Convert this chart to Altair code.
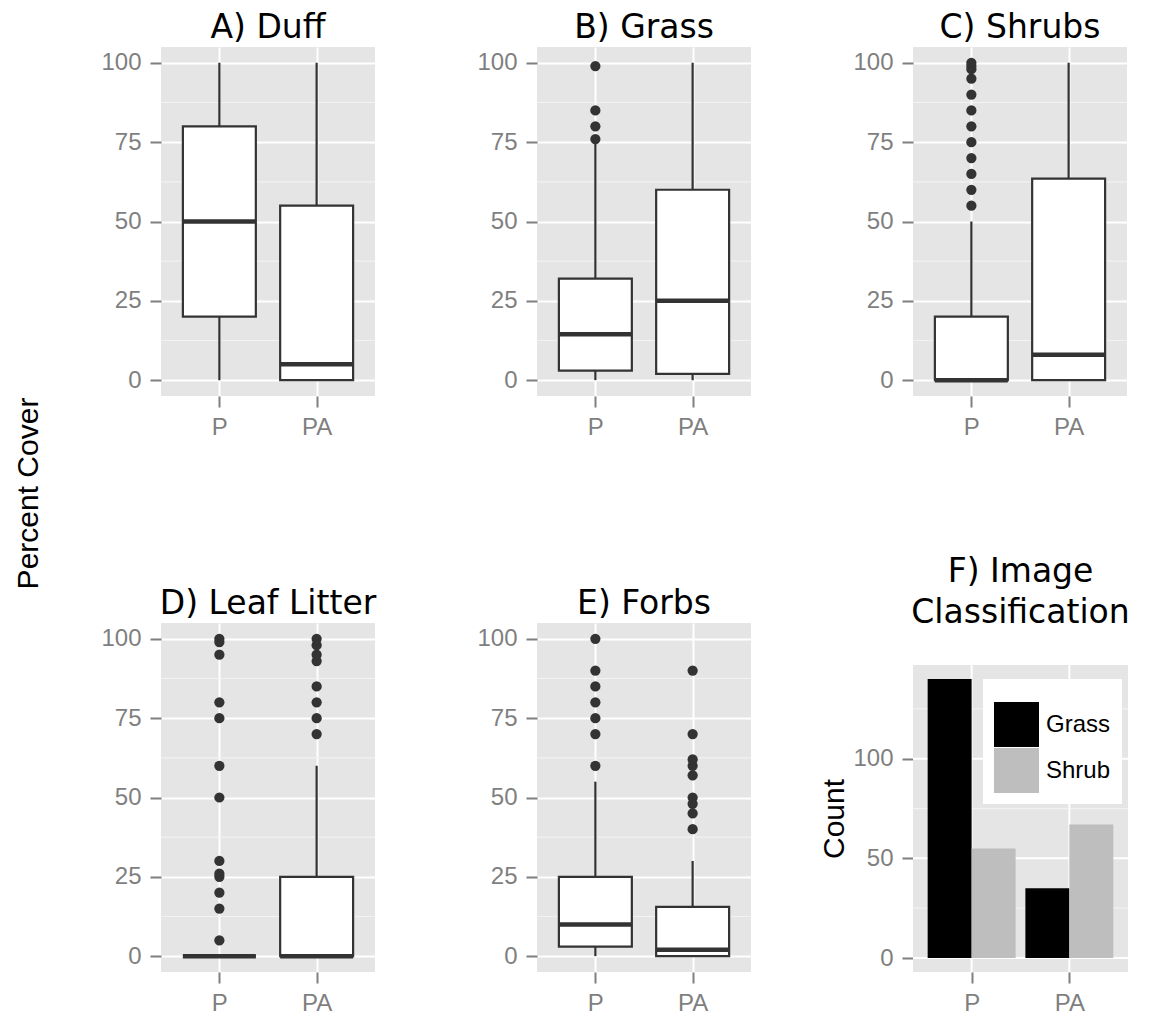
import altair as alt
import pandas as pd

# ---------------- data ----------------
groups = ["P", "PA"]
group_idx = [1, 2]

panel_titles = ["A) Duff", "B) Grass", "C) Shrubs", "D) Leaf Litter", "E) Forbs"]

# box statistics per panel: [P, PA]
whisker_low = [[0, 0], [0, 0], [0, 0], [0, 0], [0, 0]]
box_q1 = [[20, 0], [3, 2], [0, 0], [0, 0], [3, 0]]
box_median = [[50, 5], [14.5, 25], [0, 8], [0, 0], [10, 2]]
box_q3 = [[80, 55], [32, 60], [20, 63.5], [0, 25], [25, 15.5]]
whisker_high = [[100, 100], [75, 100], [50, 100], [0, 60], [55, 30]]

# outliers per panel
outliers_P = [
    [],
    [76, 80, 85, 99],
    [55, 60, 65, 70, 75, 80, 85, 90, 95, 98, 99, 100],
    [5, 15, 20, 25, 26, 30, 50, 60, 75, 80, 95, 99, 100],
    [60, 70, 75, 80, 85, 90, 100],
]
outliers_PA = [
    [],
    [],
    [],
    [70, 75, 80, 85, 93, 95, 98, 100],
    [40, 45, 48, 50, 57, 60, 62, 70, 90],
]

# F) Image classification counts
class_group = ["P", "P", "PA", "PA"]
class_type = ["Grass", "Shrub", "Grass", "Shrub"]
class_count = [140, 55, 35, 67]

# ---------------- style ----------------
W = 214
H = 349
FW = 215
F_TOP = 42
DARK = "#333333"
PANEL = "#E5E5E5"
MINOR = "#F2F2F2"
TITLE_FONT = "DejaVu Sans"
TEXT_FONT = "Liberation Sans"

xscale = alt.Scale(domain=[0.4, 2.6], nice=False, zero=False)
xaxis = alt.Axis(values=[1, 2], labelExpr="datum.value == 1 ? 'P' : 'PA'",
                 title=None, grid=True)
xaxis_nogrid = alt.Axis(values=[1, 2], labelExpr="datum.value == 1 ? 'P' : 'PA'",
                        title=None, grid=False)
pct_scale = alt.Scale(domain=[-5, 105], nice=False, zero=False)


def pct_axis(with_title=False):
    if with_title:
        return alt.Axis(values=[0, 25, 50, 75, 100], grid=True,
                        title="Percent Cover", titleX=-133, titleY=446,
                        titleAngle=-90, titleAlign="center", titleBaseline="middle",
                        titleFont=TEXT_FONT, titleFontSize=30, titleColor="black",
                        titleFontWeight="normal")
    return alt.Axis(values=[0, 25, 50, 75, 100], grid=True, title=None)


def box_panel(i):
    yaxis = pct_axis(i == 0)

    def X(f):
        return alt.X(f, scale=xscale, axis=xaxis)

    def Y(f):
        return alt.Y(f, scale=pct_scale, axis=yaxis)

    df = pd.DataFrame({
        "idx": group_idx,
        "group": groups,
        "lo": whisker_low[i],
        "q1": box_q1[i],
        "med": box_median[i],
        "q3": box_q3[i],
        "hi": whisker_high[i],
    })
    minor = alt.Chart(pd.DataFrame({"v": [12.5, 37.5, 62.5, 87.5]})).mark_rule(
        color=MINOR, strokeWidth=1.2
    ).encode(y=Y("v:Q"), x=alt.value(0), x2=alt.value(W))

    base = alt.Chart(df)
    whisk = base.mark_rule(color=DARK, strokeWidth=2.2).encode(
        x=X("idx:Q"), y=Y("lo:Q"), y2="hi:Q")
    calc = base.transform_calculate(xl="datum.idx - 0.375", xr="datum.idx + 0.375")
    box = calc.mark_rect(fill="white", stroke=DARK, strokeWidth=2.2).encode(
        x=X("xl:Q"), x2="xr:Q", y=Y("q1:Q"), y2="q3:Q")
    med = calc.mark_rule(color=DARK, strokeWidth=4.5).encode(
        x=X("xl:Q"), x2="xr:Q", y=Y("med:Q"))
    layers = [minor, whisk, box, med]

    ov = [(1, v) for v in outliers_P[i]] + [(2, v) for v in outliers_PA[i]]
    if ov:
        dfo = pd.DataFrame({"idx": [a for a, _ in ov], "val": [b for _, b in ov]})
        pts = alt.Chart(dfo).mark_circle(size=105, color=DARK, opacity=1).encode(
            x=X("idx:Q"), y=Y("val:Q"))
        layers.append(pts)

    return alt.layer(*layers).properties(
        width=W, height=H,
        title=alt.TitleParams(panel_titles[i], offset=2))


def class_panel():
    top_val = max(class_count)
    pad = top_val * 0.05
    f_domain = [-pad, top_val + pad]
    yscale = alt.Scale(domain=f_domain, nice=False, zero=False, range=[H, F_TOP])
    yaxis = alt.Axis(values=[0, 50, 100], grid=False, title="Count",
                     titleX=-79, titleY=F_TOP + (H - F_TOP) / 2, titleAngle=-90,
                     titleAlign="center",
                     titleBaseline="middle", titleFont=TEXT_FONT, titleFontSize=30,
                     titleColor="black", titleFontWeight="normal")

    def Y(f):
        return alt.Y(f, scale=yscale, axis=yaxis)

    def X(f):
        return alt.X(f, scale=xscale, axis=xaxis_nogrid)

    bg = alt.Chart(pd.DataFrame({"y0": [f_domain[0]], "y1": [f_domain[1]]})).mark_rect(
        color=PANEL).encode(x=alt.value(0), x2=alt.value(FW), y=Y("y0:Q"), y2="y1:Q")
    minor = alt.Chart(pd.DataFrame({"v": [25, 75, 125]})).mark_rule(
        color=MINOR, strokeWidth=1.2
    ).encode(y=Y("v:Q"), x=alt.value(0), x2=alt.value(FW))
    major = alt.Chart(pd.DataFrame({"v": [0, 50, 100]})).mark_rule(
        color="white", strokeWidth=2
    ).encode(y=Y("v:Q"), x=alt.value(0), x2=alt.value(FW))
    vert = alt.Chart(pd.DataFrame({"idx": group_idx,
                                   "y0": [f_domain[0]] * 2,
                                   "y1": [f_domain[1]] * 2})).mark_rule(
        color="white", strokeWidth=2
    ).encode(x=X("idx:Q"), y=Y("y0:Q"), y2="y1:Q")

    df = pd.DataFrame({
        "group": class_group,
        "type": class_type,
        "count": class_count,
        "idx": [group_idx[groups.index(g)] for g in class_group],
    })
    bars = alt.Chart(df).transform_calculate(
        xl="datum.type == 'Grass' ? datum.idx - 0.45 : datum.idx",
        xr="datum.type == 'Grass' ? datum.idx : datum.idx + 0.45",
        zero="0",
    ).mark_rect().encode(
        x=X("xl:Q"),
        x2="xr:Q",
        y=Y("count:Q"),
        y2="zero:Q",
        color=alt.Color(
            "type:N",
            scale=alt.Scale(domain=["Grass", "Shrub"], range=["#000000", "#BEBEBE"]),
            legend=alt.Legend(
                title=" ", titleFontSize=10, titlePadding=2,
                orient="none", legendX=822, legendY=632,
                fillColor="white", padding=11,
                symbolType="square", symbolSize=2025, symbolStrokeWidth=0,
                symbolOpacity=1,
                labelFont=TEXT_FONT, labelFontSize=24, labelColor="black",
                labelOffset=7, rowPadding=1,
            ),
        ),
    )
    return alt.layer(bg, minor, major, vert, bars).properties(
        width=FW, height=H,
        view=alt.ViewBackground(fill="white", fillOpacity=0, strokeWidth=0),
        title=alt.TitleParams(["F) Image", "Classification"], offset=-7, lineHeight=41))


panels = [box_panel(i) for i in range(5)] + [class_panel()]

chart = alt.concat(
    *panels, columns=3, spacing={"row": 227, "column": 162}, bounds="flush"
).properties(
    padding={"left": 13, "top": 12, "right": 0, "bottom": 0},
    background="white",
).configure_view(
    fill=PANEL, strokeWidth=0
).configure_axis(
    domain=False,
    labelFont=TEXT_FONT, labelFontSize=24, labelColor="#7F7F7F",
    tickColor="#7F7F7F", tickSize=11, tickWidth=2,
    labelPadding=9,
    gridColor="white", gridWidth=2,
).configure_axisX(
    labelPadding=8,
).configure_title(
    font=TITLE_FONT, fontSize=33, fontWeight="normal", color="black", anchor="middle",
)

chart.save("out.html", embed_options={"renderer": "svg", "actions": False})
